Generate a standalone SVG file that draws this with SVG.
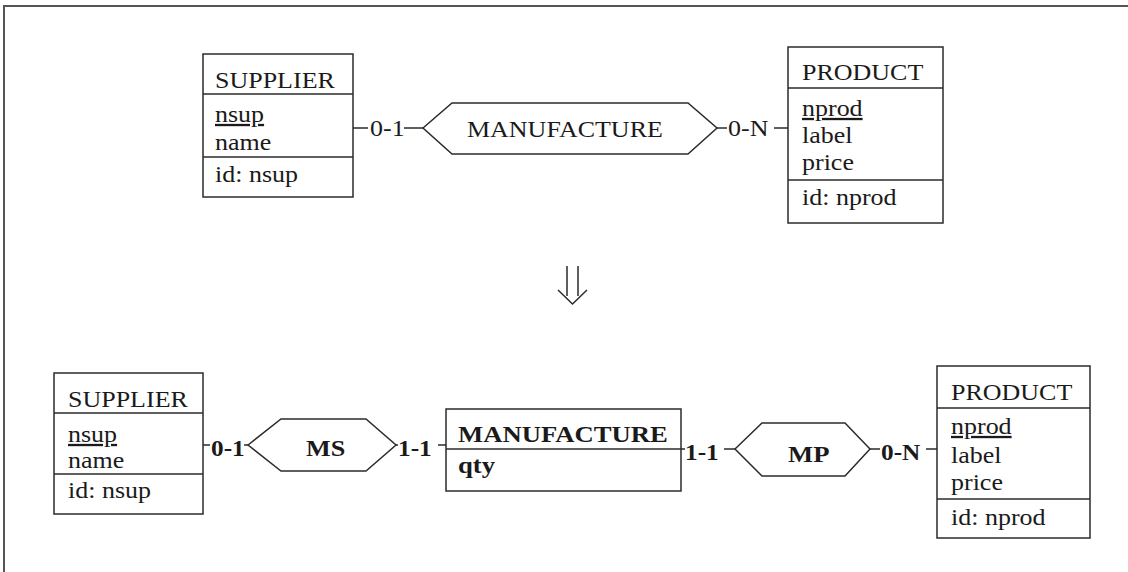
<svg xmlns="http://www.w3.org/2000/svg" width="1128" height="572" viewBox="0 0 1128 572">
  <style>
    .box { fill: #ffffff; stroke: #2b2b2b; stroke-width: 1.5; }
    .sep { stroke: #2b2b2b; stroke-width: 1.5; fill: none; }
    .rel { fill: #ffffff; stroke: #2b2b2b; stroke-width: 1.5; }
    .link { stroke: #2b2b2b; stroke-width: 1.5; fill: none; }
    .frame { stroke: #555555; stroke-width: 2; fill: none; }
    text { font-family: "Liberation Serif", "Times New Roman", serif; font-size: 23px; fill: #1a1a1a; }
    .b { font-weight: bold; }
    .u { text-decoration: underline; }
  </style>

  <rect width="1128" height="572" fill="#ffffff"/>
  <!-- outer frame: top and left edges -->
  <path class="frame" d="M4 572 V6 H1128"/>

  <!-- connectors -->
  <g id="connectors">
    <path class="link" d="M353 128 H368 M404 128 H423"/>
    <path class="link" d="M717 128 H727 M774 128 H788"/>
    <path class="link" d="M203 445 H210 M244 445 H248"/>
    <path class="link" d="M396 445 H398 M438 445 H446"/>
    <path class="link" d="M681 449 H685 M724 449 H735"/>
    <path class="link" d="M870 449 H880 M926 449 H937"/>
    <text transform="translate(370 136) scale(1.13 1)">0-1</text>
    <text transform="translate(728 136) scale(1.13 1)">0-N</text>
    <text class="b" transform="translate(211 456) scale(1.1 1)">0-1</text>
    <text class="b" transform="translate(398 456) scale(1.1 1)">1-1</text>
    <text class="b" transform="translate(685 460) scale(1.1 1)">1-1</text>
    <text class="b" transform="translate(881 460) scale(1.1 1)">0-N</text>
  </g>

  <!-- upper schema -->
  <g id="supplier-top">
    <rect class="box" x="203" y="54" width="150" height="143"/>
    <path class="sep" d="M203 94 H353 M203 157 H353"/>
    <text transform="translate(215 88) scale(1.13 1)">SUPPLIER</text>
    <text class="u" transform="translate(215 122) scale(1.13 1)">nsup</text>
    <text transform="translate(215 150) scale(1.13 1)">name</text>
    <text transform="translate(215 182) scale(1.13 1)">id: nsup</text>
  </g>

  <g id="manufacture-top">
    <polygon class="rel" points="423,128 452,103 688,103 717,128 688,154 452,154"/>
    <text transform="translate(467 137) scale(1.13 1)">MANUFACTURE</text>
  </g>

  <g id="product-top">
    <rect class="box" x="788" y="47" width="155" height="176"/>
    <path class="sep" d="M788 88 H943 M788 180 H943"/>
    <text transform="translate(802 80) scale(1.13 1)">PRODUCT</text>
    <text class="u" transform="translate(802 116) scale(1.13 1)">nprod</text>
    <text transform="translate(802 143) scale(1.13 1)">label</text>
    <text transform="translate(802 170) scale(1.13 1)">price</text>
    <text transform="translate(802 205) scale(1.13 1)">id: nprod</text>
  </g>

  <!-- transformation arrow -->
  <g id="transform-arrow">
    <path class="link" stroke-width="2" d="M567 266 V296 M578 266 V296 M558 290 L572.5 304 L587 290"/>
  </g>

  <!-- lower schema -->
  <g id="supplier-bottom">
    <rect class="box" x="54" y="373" width="149" height="141"/>
    <path class="sep" d="M54 413 H203 M54 474 H203"/>
    <text transform="translate(68 407) scale(1.13 1)">SUPPLIER</text>
    <text class="u" transform="translate(68 442) scale(1.13 1)">nsup</text>
    <text transform="translate(68 468) scale(1.13 1)">name</text>
    <text transform="translate(68 498) scale(1.13 1)">id: nsup</text>
  </g>

  <g id="ms">
    <polygon class="rel" points="248,445 281,419 366,419 396,445 366,471 281,471"/>
    <text class="b" transform="translate(306 456) scale(1.14 1)">MS</text>
  </g>

  <g id="manufacture-bottom">
    <rect class="box" x="446" y="409" width="235" height="82"/>
    <path class="sep" d="M446 449 H681"/>
    <text class="b" transform="translate(458 442) scale(1.16 1)">MANUFACTURE</text>
    <text class="b" transform="translate(458 473) scale(1.16 1)">qty</text>
  </g>

  <g id="mp">
    <polygon class="rel" points="735,449 762,423 845,423 870,449 845,476 762,476"/>
    <text class="b" transform="translate(788 462) scale(1.16 1)">MP</text>
  </g>

  <g id="product-bottom">
    <rect class="box" x="937" y="366" width="153" height="172"/>
    <path class="sep" d="M937 408 H1090 M937 499 H1090"/>
    <text transform="translate(951 400) scale(1.13 1)">PRODUCT</text>
    <text class="u" transform="translate(951 434) scale(1.13 1)">nprod</text>
    <text transform="translate(951 463) scale(1.13 1)">label</text>
    <text transform="translate(951 490) scale(1.13 1)">price</text>
    <text transform="translate(951 525) scale(1.13 1)">id: nprod</text>
  </g>
</svg>
